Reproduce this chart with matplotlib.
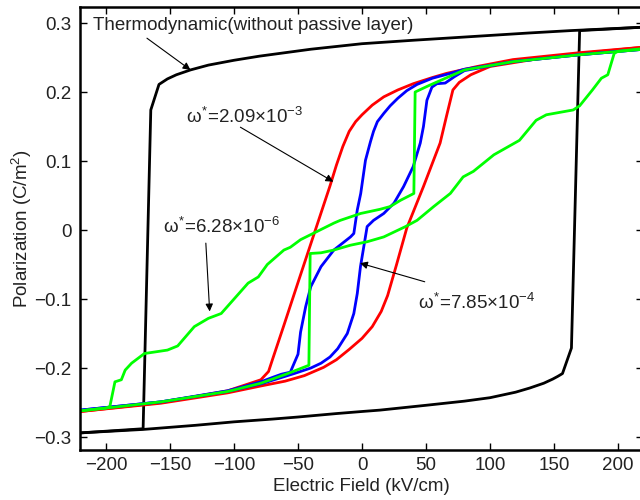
import matplotlib
matplotlib.use("Agg")
import matplotlib.pyplot as plt

plt.rcParams["font.family"] = ["Liberation Sans", "DejaVu Sans"]
plt.rcParams["mathtext.fontset"] = "custom"
plt.rcParams["mathtext.rm"] = "Liberation Sans"
plt.rcParams["mathtext.it"] = "Liberation Sans"
plt.rcParams["axes.unicode_minus"] = True

# thermodynamic loop (black), field in kV/cm, polarization in C/m^2
thermo_down_E = [220, 163, 130, 100, 70, 40, 20, 0, -20, -40, -60, -80, -100, -120, -134, -145, -152, -158.6, -165, -171, -220]
thermo_down_P = [0.294, 0.289, 0.2855, 0.282, 0.2785, 0.275, 0.2725, 0.270, 0.266, 0.262, 0.257, 0.252, 0.246, 0.239, 0.232, 0.225, 0.219, 0.211, 0.174, -0.288, -0.294]
thermo_up_E = [-220, -171, -130, -100, -70, -50, -20, 0, 14, 50, 80, 100, 120, 131, 142, 149, 153, 156.6, 163.6, 170, 220]
thermo_up_P = [-0.294, -0.289, -0.283, -0.278, -0.274, -0.271, -0.266, -0.263, -0.261, -0.254, -0.248, -0.243, -0.235, -0.229, -0.222, -0.216, -0.212, -0.208, -0.171, 0.289, 0.294]

# omega* = 2.09e-3 (red)
red_down_E = [220, 170, 118, 90, 66, 55, 40, 28, 17, 8, 0, -5, -10, -15, -20, -25, -35, -40, -50, -61, -70, -73, -79, -105, -157, -220]
red_down_P = [0.265, 0.257, 0.247, 0.237, 0.227, 0.221, 0.212, 0.203, 0.193, 0.181, 0.167, 0.157, 0.143, 0.121, 0.094, 0.064, 0.008, -0.020, -0.076, -0.138, -0.188, -0.205, -0.217, -0.233, -0.250, -0.263]
red_up_E = [-220, -157, -105, -79, -60, -45, -30, -20, -10, 0, 8, 15, 20, 27, 35, 48, 61, 66, 71, 76, 85, 100, 150, 220]
red_up_P = [-0.263, -0.251, -0.236, -0.226, -0.219, -0.211, -0.199, -0.188, -0.173, -0.157, -0.140, -0.118, -0.095, -0.050, 0.003, 0.063, 0.126, 0.165, 0.203, 0.214, 0.225, 0.237, 0.252, 0.265]

# omega* = 7.85e-4 (blue)
blue_down_E = [220, 170, 118, 80, 69, 55, 43, 35, 28, 22, 17, 12, 9, 6.6, 2.7, -1, -3.7, -6.4, -9, -22, -32, -40, -44, -48, -50, -56, -63, -69, -79, -105, -157, -220]
blue_down_P = [0.262, 0.254, 0.244, 0.233, 0.227, 0.220, 0.211, 0.202, 0.191, 0.180, 0.169, 0.157, 0.143, 0.128, 0.101, 0.053, 0.029, -0.005, -0.010, -0.029, -0.053, -0.082, -0.111, -0.148, -0.180, -0.206, -0.209, -0.213, -0.220, -0.233, -0.249, -0.261]
blue_up_E = [-220, -157, -105, -79, -53, -40, -32, -25, -19, -11.5, -6.4, -3.7, -1.2, 1.4, 4, 9, 17, 25, 32.5, 40, 45.5, 48, 50.7, 54.6, 58.5, 65, 72, 80, 118, 170, 220]
blue_up_P = [-0.261, -0.249, -0.234, -0.223, -0.208, -0.200, -0.193, -0.184, -0.172, -0.150, -0.121, -0.092, -0.053, -0.024, 0.005, 0.014, 0.024, 0.039, 0.063, 0.092, 0.126, 0.150, 0.188, 0.207, 0.212, 0.213, 0.222, 0.231, 0.244, 0.254, 0.262]

# omega* = 6.28e-6 (green)
green_down_E = [220, 170, 118, 80, 53, 41.5, 40.5, 30, 22, 14, -1, -17, -22, -35, -48, -56, -61, -74, -81, -89, -110, -120, -131, -144, -152, -170, -180, -185, -188, -193, -197, -200, -220]
green_down_P = [0.262, 0.254, 0.244, 0.232, 0.210, 0.200, 0.053, 0.043, 0.034, 0.030, 0.024, 0.014, 0.010, -0.002, -0.014, -0.025, -0.029, -0.050, -0.068, -0.077, -0.121, -0.128, -0.140, -0.168, -0.174, -0.179, -0.193, -0.203, -0.217, -0.220, -0.256, -0.258, -0.262]
green_up_E = [-220, -200, -157, -105, -79, -58, -41.5, -40.5, -32, -22, -9, 4, 17, 34, 43, 56, 69, 79, 87, 103, 123, 136, 144, 165, 170, 180, 187, 192, 197, 200, 220]
green_up_P = [-0.262, -0.258, -0.249, -0.234, -0.222, -0.208, -0.196, -0.034, -0.033, -0.029, -0.022, -0.017, -0.010, 0.005, 0.014, 0.034, 0.053, 0.077, 0.085, 0.109, 0.130, 0.159, 0.167, 0.174, 0.180, 0.203, 0.220, 0.225, 0.256, 0.259, 0.263]

x_ticks = [-200, -150, -100, -50, 0, 50, 100, 150, 200]
y_ticks = [-0.3, -0.2, -0.1, 0, 0.1, 0.2, 0.3]
y_ticklabels = ["\u22120.3", "\u22120.2", "\u22120.1", "0", "0.1", "0.2", "0.3"]
x_ticklabels = ["\u2212200", "\u2212150", "\u2212100", "\u221250", "0", "50", "100", "150", "200"]

fig = plt.figure(figsize=(6.4, 5.0), dpi=100)
ax = fig.add_axes([80 / 640, 50 / 500, 563 / 640, 443 / 500])

lw = 2.0
ax.plot(thermo_down_E, thermo_down_P, color="black", lw=lw)
ax.plot(thermo_up_E, thermo_up_P, color="black", lw=lw)
ax.plot(red_down_E, red_down_P, color="#ff0000", lw=lw)
ax.plot(red_up_E, red_up_P, color="#ff0000", lw=lw)
ax.plot(blue_down_E, blue_down_P, color="#0000ff", lw=lw)
ax.plot(blue_up_E, blue_up_P, color="#0000ff", lw=lw)
ax.plot(green_down_E, green_down_P, color="#00ff00", lw=lw)
ax.plot(green_up_E, green_up_P, color="#00ff00", lw=lw)

arrow = dict(arrowstyle="-|>", lw=0.8, color="black", mutation_scale=11, shrinkA=0, shrinkB=0)
fs = 13.5
ax.annotate("", xy=(-134, 0.232), xytext=(-168, 0.278), arrowprops=arrow)
ax.text(-210, 0.297, "Thermodynamic(without passive layer)", fontsize=fs, va="center", ha="left", color="#222222")

ax.annotate("", xy=(-22.4, 0.070), xytext=(-95, 0.149), arrowprops=arrow)
ax.text(-137.5, 0.164, r"$\omega^{*}$=2.09$\times$10$^{-3}$", fontsize=fs, va="center", ha="left", color="#222222")

ax.annotate("", xy=(-119, -0.118), xytext=(-122, -0.019), arrowprops=arrow)
ax.text(-155.5, 0.004, r"$\omega^{*}$=6.28$\times$10$^{-6}$", fontsize=fs, va="center", ha="left", color="#222222")

ax.annotate("", xy=(-1.6, -0.048), xytext=(49, -0.075), arrowprops=arrow)
ax.text(43.8, -0.106, r"$\omega^{*}$=7.85$\times$10$^{-4}$", fontsize=fs, va="center", ha="left", color="#222222")

ax.set_xlim(-220.3, 219.5)
ax.set_ylim(-0.3188, 0.3232)
ax.set_xticks(x_ticks)
ax.set_xticklabels(x_ticklabels)
ax.set_yticks(y_ticks)
ax.set_yticklabels(y_ticklabels)
ax.tick_params(direction="in", length=5, width=1, top=True, right=True, labelsize=13.5, colors="black", labelcolor="#222222")
ax.tick_params(axis="y", pad=6)
ax.tick_params(axis="x", pad=5)
for sp in ax.spines.values():
    sp.set_linewidth(1.8)

ax.set_xlabel("Electric Field (kV/cm)", fontsize=13.5, color="#222222", labelpad=3)
ax.set_ylabel("Polarization (C/m$^2$)", fontsize=13.5, color="#222222", labelpad=0)

fig.savefig("out.png", dpi=100)
